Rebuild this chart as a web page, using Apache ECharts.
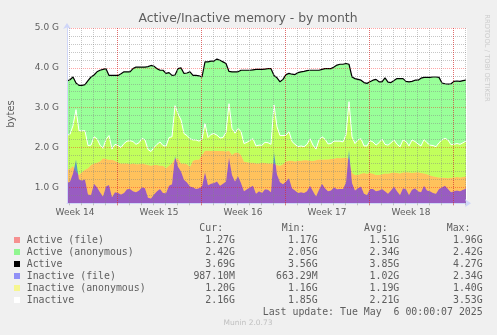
<!DOCTYPE html>
<html>
<head>
<meta charset="utf-8">
<script src="https://cdn.jsdelivr.net/npm/echarts@6/dist/echarts.min.js"></script>
<style>
  html, body { margin: 0; padding: 0; background: #f0f0f0; }
  #chart { width: 497px; height: 335px; }
</style>
</head>
<body>
<div id="chart"></div>
<script>
// Sample times are hours since Monday 31 March 2025 00:00, one sample every 6 hours.
const firstSampleHour = 68;
const sampleStepHours = 6;

// Memory values in GiB.
const activeFile = [
  1.44,1.46,1.54,1.40,1.31,1.38,1.44,1.48,1.56,1.60,
  1.62,1.65,1.73,1.71,1.69,1.69,1.67,1.62,1.60,1.60,
  1.60,1.58,1.60,1.58,1.58,1.60,1.58,1.56,1.54,1.56,
  1.56,1.54,1.54,1.48,1.54,1.60,1.72,1.73,1.60,1.60,
  1.58,1.52,1.67,1.69,1.69,1.81,1.92,1.92,1.91,1.91,
  1.91,1.91,1.91,1.90,1.92,1.81,1.87,1.87,1.81,1.64,
  1.63,1.62,1.62,1.60,1.60,1.62,1.61,1.60,1.60,1.60,
  1.56,1.54,1.58,1.65,1.67,1.67,1.65,1.66,1.67,1.68,
  1.68,1.67,1.66,1.68,1.70,1.69,1.70,1.70,1.71,1.72,
  1.74,1.73,1.74,1.75,1.72,1.36,1.31,1.31,1.34,1.36,
  1.34,1.36,1.34,1.31,1.31,1.33,1.35,1.34,1.36,1.37,
  1.36,1.35,1.37,1.38,1.37,1.36,1.37,1.38,1.36,1.35,
  1.33,1.30,1.28,1.26,1.25,1.24,1.24,1.23,1.24,1.25,
  1.26,1.25,1.26,1.27
];
const activeAnon = [
  2.23,2.24,2.23,2.22,2.25,2.18,2.14,2.20,2.21,2.22,
  2.28,2.29,2.23,2.27,2.12,2.12,2.14,2.19,2.25,2.30,
  2.30,2.32,2.38,2.44,2.44,2.42,2.44,2.47,2.52,2.48,
  2.42,2.40,2.40,2.38,2.34,2.21,2.10,2.25,2.40,2.26,
  2.29,2.38,2.14,2.12,2.11,1.96,2.23,2.23,2.26,2.26,
  2.31,2.28,2.24,2.21,1.99,2.09,2.03,2.03,2.13,2.30,
  2.31,2.32,2.33,2.36,2.36,2.34,2.36,2.38,2.38,2.21,
  2.19,2.11,2.13,2.18,2.19,2.17,2.18,2.22,2.23,2.23,
  2.25,2.27,2.28,2.26,2.24,2.27,2.28,2.28,2.27,2.30,
  2.33,2.36,2.35,2.36,2.37,2.41,2.42,2.40,2.35,2.27,
  2.27,2.29,2.35,2.40,2.34,2.32,2.40,2.30,2.27,2.31,
  2.37,2.38,2.36,2.28,2.28,2.30,2.32,2.31,2.38,2.41,
  2.43,2.46,2.49,2.51,2.51,2.38,2.36,2.36,2.36,2.41,
  2.41,2.41,2.42,2.42
];
const inactiveFile = [
  1.11,1.15,1.35,1.70,1.19,1.17,1.20,0.82,0.81,1.09,
  1.00,0.88,0.77,1.02,1.06,0.75,0.88,0.86,0.82,0.86,
  0.95,0.96,0.90,0.88,0.92,1.00,0.98,0.74,0.72,0.82,
  0.90,0.96,0.86,0.85,1.04,1.08,1.79,1.52,1.40,1.19,
  1.12,1.02,1.00,0.96,0.98,1.02,1.38,1.05,1.09,1.11,
  1.15,1.04,1.09,1.15,1.75,1.31,1.15,1.28,1.11,0.90,
  0.95,1.00,1.04,0.84,0.90,0.86,0.95,0.94,0.88,1.88,
  1.32,1.13,1.08,1.15,1.23,0.98,0.92,0.86,0.88,0.86,
  0.90,1.04,0.90,0.77,0.94,1.09,0.98,0.90,0.92,1.00,
  0.95,0.96,0.96,1.12,1.95,1.11,0.92,0.98,1.02,0.84,
  0.81,0.96,0.96,0.90,0.92,0.96,0.90,0.84,0.92,1.02,
  0.90,0.81,0.98,0.95,0.81,0.94,0.98,0.90,0.88,1.04,
  0.92,0.90,0.86,0.84,0.96,1.00,1.04,0.96,0.88,0.90,
  0.92,0.90,0.94,0.964
];
const inactiveAnon = [
  1.20,1.18,1.20,1.25,1.23,1.25,1.22,1.23,1.25,1.18,
  1.22,1.18,1.21,1.18,1.24,1.21,1.20,1.19,1.18,1.24,
  1.21,1.21,1.25,1.20,1.20,1.23,1.21,1.21,1.18,1.18,
  1.18,1.18,1.19,1.18,1.21,1.19,1.26,1.33,1.29,1.16,
  1.18,1.20,1.19,1.23,1.18,1.19,1.22,1.20,1.24,1.24,
  1.16,1.20,1.16,1.23,1.35,1.17,1.21,1.20,1.29,1.20,
  1.18,1.18,1.18,1.20,1.16,1.20,1.18,1.18,1.20,1.19,
  1.20,1.17,1.22,1.16,1.17,1.17,1.16,1.16,1.16,1.16,
  1.18,1.18,1.16,1.19,1.25,1.18,1.23,1.19,1.18,1.16,
  1.21,1.20,1.18,1.20,1.20,1.16,1.18,1.21,1.20,1.20,
  1.23,1.21,1.18,1.16,1.20,1.25,1.18,1.22,1.20,1.17,
  1.18,1.21,1.21,1.20,1.23,1.25,1.17,1.19,1.16,1.16,
  1.20,1.16,1.19,1.18,1.16,1.19,1.19,1.23,1.19,1.18,
  1.18,1.18,1.18,1.20
];

// Axis labels.
const weekLabels = ['Week 14', 'Week 15', 'Week 16', 'Week 17', 'Week 18'];
const weekCentres = [84, 252, 420, 588, 756];
const yLabelValues = [1, 2, 3, 4, 5];

// Legend table.
const legendNames = ['Active (file)', 'Active (anonymous)', 'Active', 'Inactive (file)', 'Inactive (anonymous)', 'Inactive'];
const legendCur = ['1.27G', '2.42G', '3.69G', '987.10M', '1.20G', '2.16G'];
const legendMin = ['1.17G', '2.05G', '3.56G', '663.29M', '1.16G', '1.85G'];
const legendAvg = ['1.51G', '2.34G', '3.85G', '1.02G', '1.19G', '2.21G'];
const legendMax = ['1.96G', '2.42G', '4.27G', '2.34G', '1.40G', '3.53G'];
const lastUpdate = 'Last update: Tue May  6 00:00:07 2025';

// Time slots of the horizontal axis: every 2 hours across the plotted range.
const X_MIN = 68, X_MAX = 868, SLOT = 2;
const slots = [];
for (let h = X_MIN; h <= X_MAX; h += SLOT) slots.push(String(h));

const times = activeFile.map((_, i) => firstSampleHour + i * sampleStepHours);
const activeTotal = activeFile.map((v, i) => +(v + activeAnon[i]).toFixed(3));
const inactiveTotal = inactiveFile.map((v, i) => +(v + inactiveAnon[i]).toFixed(3));
const pairs = arr => times.map((t, i) => [String(t), arr[i]]);

const colours = {
  activeFile: 'rgba(255,0,0,0.4)',
  activeAnon: 'rgba(0,255,0,0.4)',
  active: '#000000',
  inactiveFile: 'rgba(0,0,255,0.4)',
  inactiveAnon: 'rgba(255,255,0,0.4)',
  inactive: '#ffffff'
};
const swatchColours = [colours.activeFile, colours.activeAnon, colours.active,
                       colours.inactiveFile, colours.inactiveAnon, colours.inactive];

const FONT = 'DejaVu Sans';
const MONO = 'DejaVu Sans Mono';
const textColour = '#5e5e5e';
const minorGrid = 'rgba(130,130,130,0.45)';
const majorGrid = 'rgba(255,0,0,0.35)';
const axisColour = '#CFD6F8';

const isDay = (idx, val) => (+val) % 24 === 0;
const isMonday = (idx, val) => (+val) % 168 === 0;
const isWeekCentre = (idx, val) => weekCentres.indexOf(+val) >= 0;

function areaSeries(name, data, stack, colour) {
  return {
    name, type: 'line', stack, data: pairs(data),
    showSymbol: false, symbol: 'none',
    lineStyle: { width: 0 },
    areaStyle: { color: colour, opacity: 1 },
    emphasis: { disabled: true },
    z: 2
  };
}
function lineSeries(name, data, colour, width) {
  return {
    name, type: 'line', data: pairs(data),
    showSymbol: false, symbol: 'none',
    lineStyle: { color: colour, width },
    emphasis: { disabled: true },
    z: 3
  };
}

// Title, side texts and the legend table.
const graphics = [];
function txt(text, x, y, opts) {
  graphics.push({
    type: 'text', x, y, rotation: opts.rotation || 0, silent: true,
    style: {
      text, fill: opts.fill || textColour,
      font: opts.font,
      align: opts.align || 'left', textAlign: opts.align || 'left',
      verticalAlign: 'middle', textVerticalAlign: 'middle'
    }
  });
}
txt('Active/Inactive memory - by month', 248, 19, { font: '12.4px "' + FONT + '"', align: 'center' });
txt('bytes', 11, 114, { font: '10px "' + FONT + '"', align: 'center', rotation: Math.PI / 2 });
txt('RRDTOOL / TOBI OETIKER', 487, 58, { font: '6.8px "' + FONT + '"', align: 'center', rotation: -Math.PI / 2, fill: '#cccccc' });

const monoFont = '9.9px "' + MONO + '"';
const rowY0 = 240, rowStep = 12;
txt('Cur:', 199.3, 228, { font: monoFont });
txt('Min:', 281.7, 228, { font: monoFont });
txt('Avg:', 364, 228, { font: monoFont });
txt('Max:', 446.7, 228, { font: monoFont });
legendNames.forEach((name, i) => {
  const y = rowY0 + i * rowStep;
  graphics.push({
    type: 'rect', silent: true,
    shape: { x: 14, y: y - 3, width: 6, height: 6 },
    style: { fill: swatchColours[i] }
  });
  txt(name, 26.7, y, { font: monoFont });
  txt(legendCur[i], 235, y, { font: monoFont, align: 'right' });
  txt(legendMin[i], 317.7, y, { font: monoFont, align: 'right' });
  txt(legendAvg[i], 399.3, y, { font: monoFont, align: 'right' });
  txt(legendMax[i], 482.7, y, { font: monoFont, align: 'right' });
});
txt(lastUpdate, 482.7, 312, { font: monoFont, align: 'right' });
txt('Munin 2.0.73', 248, 323.5, { font: '7.5px "' + FONT + '"', align: 'center', fill: '#c0c0c0' });

const chart = echarts.init(document.getElementById('chart'), null, { renderer: 'canvas' });
chart.setOption({
  animation: false,
  backgroundColor: '#f0f0f0',
  grid: {
    left: 67, top: 28, width: 400, height: 175.3,
    show: true, backgroundColor: '#ffffff', borderWidth: 0
  },
  xAxis: [
    {
      // Day grid, week labels and the axis line.
      type: 'category', data: slots, boundaryGap: false, z: 10,
      axisLine: {
        show: true, lineStyle: { color: axisColour, width: 1 },
        symbol: ['none', 'arrow'], symbolSize: [6, 6], symbolOffset: [0, 4]
      },
      axisTick: { show: true, length: 2, interval: isDay, lineStyle: { color: minorGrid } },
      axisLabel: {
        interval: isWeekCentre, margin: 5, color: textColour,
        fontFamily: FONT, fontSize: 9,
        formatter: v => weekLabels[weekCentres.indexOf(+v)] || ''
      },
      splitLine: { show: true, interval: isDay, lineStyle: { type: [1, 1], width: 1, color: minorGrid } }
    },
    {
      // Week boundaries (Mondays).
      type: 'category', data: slots, boundaryGap: false, position: 'bottom', z: 11,
      axisLine: { show: false },
      axisTick: { show: true, length: 2, interval: isMonday, lineStyle: { color: majorGrid } },
      axisLabel: { show: false },
      splitLine: { show: true, interval: isMonday, lineStyle: { type: [1, 1], width: 1, color: 'rgba(255,0,0,0.45)' } }
    }
  ],
  yAxis: {
    type: 'value', min: 0.6, max: 5.0, interval: 0.2, z: 10,
    axisLine: {
      show: true, lineStyle: { color: axisColour, width: 1 },
      symbol: ['none', 'arrow'], symbolSize: [6, 6], symbolOffset: [0, 5]
    },
    axisTick: { show: false },
    axisLabel: {
      customValues: yLabelValues, margin: 8, color: textColour,
      fontFamily: FONT, fontSize: 9,
      formatter: v => v.toFixed(1) + ' G'
    },
    splitLine: {
      show: true,
      lineStyle: {
        type: [1, 1], width: 1,
        color: [minorGrid, minorGrid, majorGrid, minorGrid, minorGrid]
      }
    }
  },
  series: [
    areaSeries('Active (file)', activeFile, 'active', colours.activeFile),
    areaSeries('Active (anonymous)', activeAnon, 'active', colours.activeAnon),
    areaSeries('Inactive (file)', inactiveFile, 'inactive', colours.inactiveFile),
    areaSeries('Inactive (anonymous)', inactiveAnon, 'inactive', colours.inactiveAnon),
    lineSeries('Active', activeTotal, colours.active, 1.2),
    lineSeries('Inactive', inactiveTotal, colours.inactive, 1)
  ],
  graphic: graphics
});
</script>
</body>
</html>
